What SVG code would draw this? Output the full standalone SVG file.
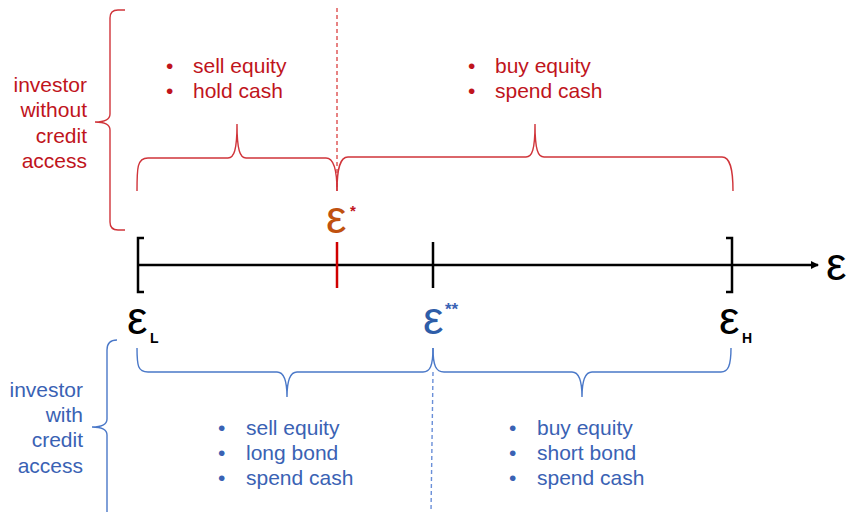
<svg xmlns="http://www.w3.org/2000/svg" width="847" height="512" viewBox="0 0 847 512">
<defs>
<style>
.t{font-family:"Liberation Sans",Arial,sans-serif;font-size:21px}
.red{fill:#C0141C}
.blue{fill:#3A62B4}
.eps{font-family:"Liberation Sans",Arial,sans-serif;font-size:46px}
.sub{font-family:"Liberation Sans",Arial,sans-serif;font-size:14px;font-weight:bold}
.rb{fill:none;stroke:#D0343A;stroke-width:1.4}
.bb{fill:none;stroke:#4A78C8;stroke-width:1.4}
.ax{fill:none;stroke:#000;stroke-width:2.5}
</style>
<marker id="arr" markerWidth="8" markerHeight="8" refX="7" refY="4" orient="auto" markerUnits="userSpaceOnUse">
<path d="M0,0 L8,4 L0,8 Z" fill="#000"/>
</marker>
</defs>
<rect width="847" height="512" fill="#fff"/>

<g id="connectors">
<line x1="337" y1="8" x2="337" y2="190" stroke="#E05A5A" stroke-width="1.5" stroke-dasharray="4,3"/>
<line x1="433" y1="372" x2="431" y2="512" stroke="#6A8FD8" stroke-width="1.4" stroke-dasharray="4,3"/>
<path class="rb" d="M125,10 L118,10 Q110,10 110,18 L110,114 Q110,122 95,122 Q110,122 110,130 L110,222 Q110,230 118,230 L125,230"/>
<path class="rb" d="M137,191 C137,168 137,158 148,158 L228,158 C234,158 237,150 237,124 C237,150 240,158 246,158 L326,158 C333,158 337,168 337,191"/>
<path class="rb" d="M337,191 C337,168 340,157 348,157 L526,157 C532,157 535,150 535,124 C535,150 538,157 544,157 L722,157 C730,157 733,168 733,191"/>
<path class="bb" d="M117,340 Q107,340 107,350 L107,419 Q107,427 92,427 Q107,427 107,435 L107,512"/>
<path class="bb" d="M137,348 C137,366 138,372 148,372 L277,372 C283,372 287,380 287,397 C287,380 291,372 297,372 L423,372 C430,372 433,366 433,348"/>
<path class="bb" d="M433,348 C433,366 436,372 444,372 L572,372 C578,372 582,380 582,397 C582,380 586,372 592,372 L721,372 C728,372 731,366 731,348"/>
</g>

<g id="axis">
<line class="ax" x1="138" y1="265" x2="818" y2="265" marker-end="url(#arr)"/>
<path class="ax" d="M144,238 L138,238 L138,292 L144,292"/>
<path class="ax" d="M726,238 L732,238 L732,292 L726,292"/>
<line x1="337" y1="242" x2="337" y2="288" stroke="#D00000" stroke-width="2.5"/>
<line x1="433" y1="242" x2="433" y2="288" stroke="#000" stroke-width="2.5"/>
<text class="eps" x="826" y="280" fill="#000">ε</text>
</g>

<g id="eps-star">
<text class="eps" x="326" y="233" fill="#C0510F">ε</text>
<text x="350" y="216" font-family="Liberation Sans,Arial,sans-serif" font-size="15" font-weight="bold" fill="#C0141C">*</text>
</g>
<g id="eps-L">
<text class="eps" x="127" y="334" fill="#000">ε</text>
<text class="sub" x="150" y="343" fill="#000">L</text>
</g>
<g id="eps-dstar">
<text class="eps" x="423" y="334" fill="#2E5DA8">ε</text>
<text x="445" y="315" font-family="Liberation Sans,Arial,sans-serif" font-size="17" font-weight="bold" fill="#3A62B4">**</text>
</g>
<g id="eps-H">
<text class="eps" x="719" y="334" fill="#000">ε</text>
<text class="sub" x="742" y="343" fill="#000">H</text>
</g>

<g id="label-without">
<text class="t red" text-anchor="end" x="87" y="92">investor</text>
<text class="t red" text-anchor="end" x="87" y="117">without</text>
<text class="t red" text-anchor="end" x="87" y="143">credit</text>
<text class="t red" text-anchor="end" x="87" y="168">access</text>
</g>
<g id="red-left">
<text class="t red" x="166" y="73">•</text><text class="t red" x="193" y="73">sell equity</text>
<text class="t red" x="166" y="98">•</text><text class="t red" x="193" y="98">hold cash</text>
</g>
<g id="red-right">
<text class="t red" x="468" y="73">•</text><text class="t red" x="495" y="73">buy equity</text>
<text class="t red" x="468" y="98">•</text><text class="t red" x="495" y="98">spend cash</text>
</g>

<g id="label-with">
<text class="t blue" text-anchor="end" x="83" y="397">investor</text>
<text class="t blue" text-anchor="end" x="83" y="422">with</text>
<text class="t blue" text-anchor="end" x="83" y="447">credit</text>
<text class="t blue" text-anchor="end" x="83" y="473">access</text>
</g>
<g id="blue-left">
<text class="t blue" x="218" y="435">•</text><text class="t blue" x="246" y="435">sell equity</text>
<text class="t blue" x="218" y="460">•</text><text class="t blue" x="246" y="460">long bond</text>
<text class="t blue" x="218" y="485">•</text><text class="t blue" x="246" y="485">spend cash</text>
</g>
<g id="blue-right">
<text class="t blue" x="509" y="435">•</text><text class="t blue" x="537" y="435">buy equity</text>
<text class="t blue" x="509" y="460">•</text><text class="t blue" x="537" y="460">short bond</text>
<text class="t blue" x="509" y="485">•</text><text class="t blue" x="537" y="485">spend cash</text>
</g>
</svg>
